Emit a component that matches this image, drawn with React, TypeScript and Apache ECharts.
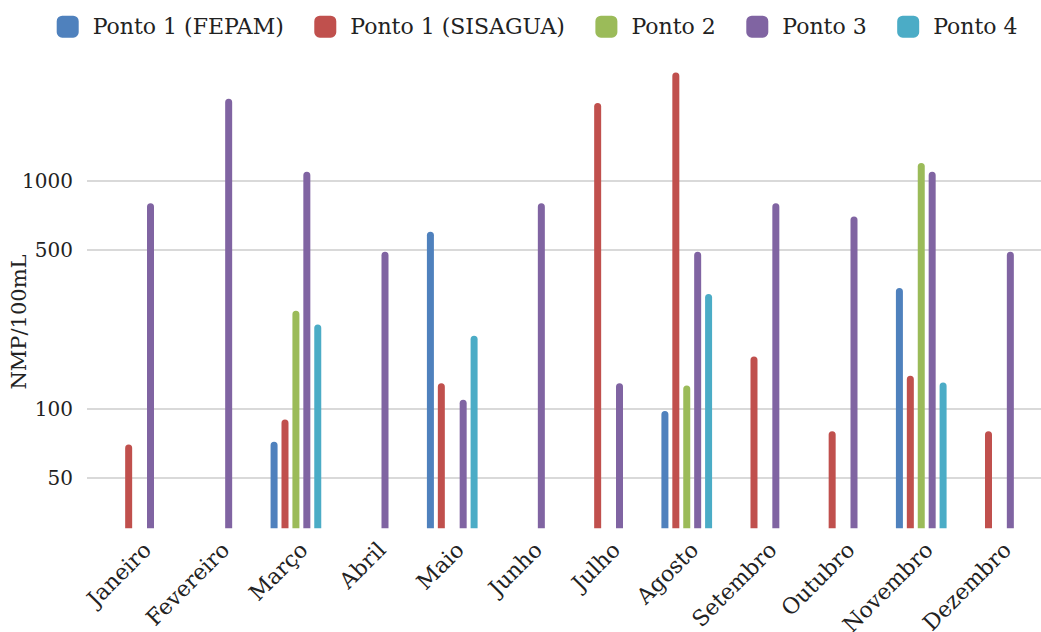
import React, { useEffect, useRef } from "react";
import * as echarts from "echarts";

const months = ["Janeiro", "Fevereiro", "Março", "Abril", "Maio", "Junho", "Julho", "Agosto", "Setembro", "Outubro", "Novembro", "Dezembro"];
const seriesNames = ["Ponto 1 (FEPAM)", "Ponto 1 (SISAGUA)", "Ponto 2", "Ponto 3", "Ponto 4"];
const fepam = [null, null, 72, null, 600, null, null, 98, null, null, 340, null];
const sisagua = [70, null, 90, null, 130, null, 2200, 3000, 170, 80, 140, 80];
const ponto2 = [null, null, 270, null, null, null, null, 127, null, null, 1200, null];
const ponto3 = [800, 2300, 1100, 490, 110, 800, 130, 490, 800, 700, 1100, 490];
const ponto4 = [null, null, 235, null, 210, null, null, 320, null, null, 131, null];
const yTicks = [50, 100, 500, 1000];
const colors = ["#4F81BD", "#C0504D", "#9BBB59", "#8064A2", "#4BACC6"];

const FONT = "DejaVu Serif";

export default function App() {
  const ref = useRef<HTMLDivElement>(null);
  useEffect(() => {
    if (!ref.current) return;
    const chart = echarts.init(ref.current, null, { renderer: "svg" });
    const values = [fepam, sisagua, ponto2, ponto3, ponto4];
    const top = 72.4;
    const bottom = 632 - 528.3;
    chart.setOption({
      animation: false,
      color: colors,
      textStyle: { fontFamily: FONT, color: "#222" },
      legend: {
        left: 56.7,
        top: 15.7,
        padding: 0,
        itemWidth: 22,
        itemHeight: 22,
        itemGap: 30.5,
        icon: "roundRect",
        textStyle: { fontFamily: FONT, fontSize: 22, color: "#222", padding: [0, 0, 0, 9] },
        data: seriesNames,
      },
      grid: [
        { left: 100.5, right: 2.5, top, bottom, containLabel: false, outerBoundsMode: "none" },
        { left: 87, right: 0, top, bottom, containLabel: false, outerBoundsMode: "none" },
      ],
      xAxis: [
        {
          type: "category",
          gridIndex: 0,
          data: months,
          axisLine: { show: false },
          axisTick: { show: false },
          axisLabel: {
            rotate: 45,
            margin: 10,
            fontFamily: FONT,
            fontSize: 22,
            color: "#222",
            interval: 0,
            verticalAlign: "top",
          },
        },
        { type: "category", gridIndex: 1, data: [], show: false },
      ],
      yAxis: [
        { type: "log", gridIndex: 0, min: 30, max: 3000, show: false, splitLine: { show: false } },
        {
          type: "log",
          gridIndex: 1,
          min: 30,
          max: 3000,
          axisLine: { show: false },
          axisTick: { show: false, customValues: yTicks },
          axisLabel: {
            customValues: yTicks,
            margin: 14,
            fontFamily: FONT,
            fontSize: 20,
            color: "#222",
            formatter: (v: number) => String(Math.round(v)),
          },
          splitLine: { show: true, lineStyle: { color: "#cccccc", width: 1.5 } },
        },
      ],
      graphic: [
        {
          type: "text",
          x: 19,
          y: 322,
          rotation: Math.PI / 2,
          style: { text: "NMP/100mL", fontFamily: FONT, fontSize: 21, fill: "#222", align: "center", verticalAlign: "middle" },
        },
      ],
      series: values.map((v, i) => ({
        name: seriesNames[i],
        type: "bar",
        xAxisIndex: 0,
        yAxisIndex: 0,
        data: v,
        barWidth: 7,
        barGap: "56%",
        clip: true,
        itemStyle: { color: colors[i], borderRadius: [3.5, 3.5, 0, 0] },
      })),
    });
    return () => chart.dispose();
  }, []);
  return <div ref={ref} style={{ position: "fixed", left: 0, top: 0, width: 1041, height: 632, background: "#fff" }} />;
}
